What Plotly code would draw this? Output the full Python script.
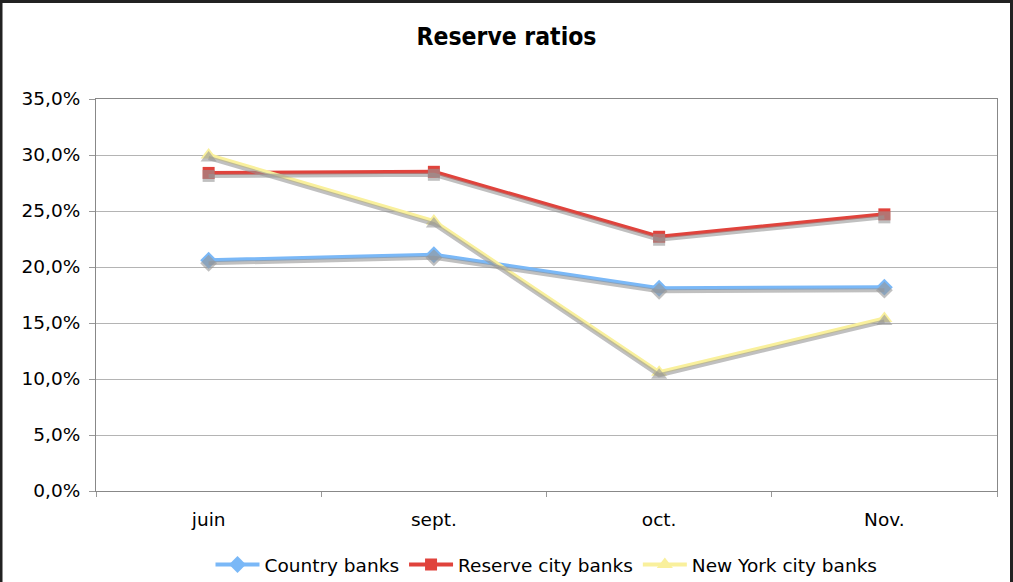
import plotly.graph_objects as go

categories = ["juin", "sept.", "oct.", "Nov."]
country_banks = [20.6, 21.1, 18.1, 18.2]
reserve_city_banks = [28.4, 28.5, 22.7, 24.7]
new_york_city_banks = [30.0, 24.1, 10.6, 15.4]
y_ticks = [0, 5, 10, 15, 20, 25, 30, 35]
y_tick_labels = ["0,0%", "5,0%", "10,0%", "15,0%", "20,0%", "25,0%", "30,0%", "35,0%"]

series = [
    ("Country banks", country_banks, "#7ab8f7", "diamond", 13),
    ("Reserve city banks", reserve_city_banks, "#e0433c", "square", 12),
    ("New York city banks", new_york_city_banks, "#f9f09c", "triangle-up", 14),
]

L, R, T, B = 96, 16, 99, 91
W, H = 1013, 582
pw, ph = W - L - R, H - T - B
FONT = "DejaVu Sans"
FS = 18.5

fig = go.Figure()

# shadows (same data, drawn on an overlay axis shifted a few pixels)
shift = 3 / ph * 35
for name, vals, col, sym, sz in series:
    fig.add_trace(go.Scatter(
        x=categories, y=vals, mode="lines+markers", yaxis="y2",
        line=dict(color="rgba(150,150,150,0.6)", width=4),
        marker=dict(symbol=sym, size=sz, color="rgba(150,150,150,0.6)"),
        showlegend=False, hoverinfo="skip"))

for name, vals, col, sym, sz in series:
    fig.add_trace(go.Scatter(
        x=categories, y=vals, mode="lines+markers", name=name,
        line=dict(color=col, width=4),
        marker=dict(symbol=sym, size=sz, color=col)))

fig.update_layout(
    width=W, height=H,
    margin=dict(l=L, r=R, t=T, b=B, autoexpand=False),
    paper_bgcolor="white", plot_bgcolor="white",
    title=dict(text="<b>Reserve ratios</b>", x=0.5, xanchor="center",
               y=1 - 36 / H, yanchor="middle",
               font=dict(family="DejaVu Sans Condensed", size=24.5, color="black")),
    font=dict(family=FONT, size=FS, color="black"),
    xaxis=dict(type="category", range=[-0.5, 3.5], showline=True, linecolor="#888888",
               linewidth=1, mirror=True, ticks="outside", tickson="boundaries",
               ticklen=5, tickcolor="#999999", showgrid=False, ticklabelstandoff=12,
               automargin=False, tickfont=dict(family=FONT, size=FS)),
    yaxis=dict(range=[0, 35], tickvals=y_ticks, ticktext=y_tick_labels,
               showline=True, linecolor="#888888", linewidth=1, mirror=True,
               ticks="outside", ticklen=6, tickcolor="#999999", ticklabelstandoff=5,
               gridcolor="#b4b4b4", gridwidth=1, zeroline=False, automargin=False,
               tickfont=dict(family=FONT, size=FS)),
    yaxis2=dict(range=[shift, 35 + shift], overlaying="y", visible=False),
    legend=dict(orientation="h", xref="paper", yref="container",
                x=0.5, xanchor="center", y=1 - 565 / H, yanchor="middle",
                font=dict(family=FONT, size=FS, color="black"),
                itemwidth=44, traceorder="normal"),
    shapes=[dict(type="rect", xref="paper", yref="paper",
                 x0=(1 - L) / pw, x1=(1011.5 - L) / pw,
                 y0=((H - B) - 600) / ph, y1=((H - B) - 1.5) / ph,
                 line=dict(color="#222222", width=3), layer="below")],
)

fig.write_html("out.html", config={"displayModeBar": False},
               post_script="document.body.style.margin='0';document.body.style.overflow='hidden';")
